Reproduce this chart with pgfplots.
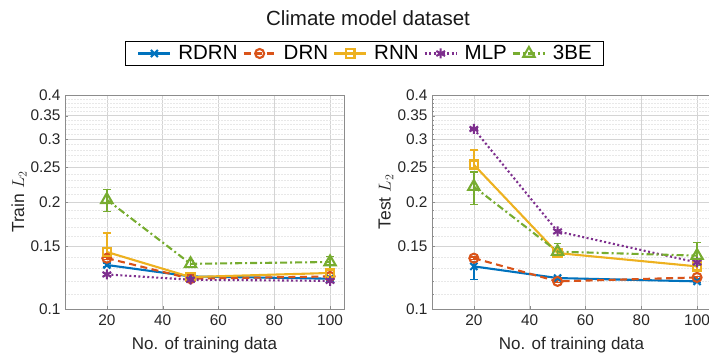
\documentclass[border=0pt]{standalone}
\usepackage{pgfplots}
\pgfplotsset{compat=1.18}
\usepackage{fontspec}
\setmainfont{Liberation Sans}
\definecolor{mblue}{rgb}{0,0.447,0.741}
\definecolor{morange}{rgb}{0.85,0.325,0.098}
\definecolor{myellow}{rgb}{0.929,0.694,0.125}
\definecolor{mpurple}{rgb}{0.494,0.184,0.556}
\definecolor{mgreen}{rgb}{0.466,0.674,0.188}
\pgfplotsset{
  legend image code/.code={\draw[mark repeat=2,mark phase=2,#1] plot coordinates {(0bp,0bp) (16bp,0bp) (32bp,0bp)};},
  prdrn/.style={color=mblue, solid, line width=2.1bp, mark=x, mark size=5bp, mark options={solid}},
  pdrn/.style={color=morange, line width=2.1bp, dash pattern=on 7bp off 4.5bp, mark=o, mark size=4.5bp, mark options={solid}},
  prnn/.style={color=myellow, solid, line width=2.1bp, mark=square, mark size=4.3bp, mark options={solid}},
  pmlp/.style={color=mpurple, line width=2.1bp, dash pattern=on 2bp off 2.5bp, mark=asterisk, mark size=5bp, mark options={solid}},
  pbe/.style={color=mgreen, line width=2.1bp, dash pattern=on 7bp off 3bp on 2bp off 3bp, mark=triangle, mark size=6.5bp, mark options={solid}},
}
\begin{document}
\begin{tikzpicture}
\begin{axis}[ymode=log,
    scale only axis, width=279bp, height=214bp,
    at={(65bp,-309bp)}, anchor=south west,
    xmin=5, xmax=105, ymin=0.1, ymax=0.4,
    xtick={20,40,60,80,100}, xticklabels={20,40,60,80,100},
    ytick={0.1,0.15,0.2,0.25,0.3,0.35,0.4},
    yticklabels={0.1,0.15,0.2,0.25,0.3,0.35,0.4},
    minor ytick={0.11,0.12,0.13,0.14,0.16,0.17,0.18,0.19,0.21,0.22,0.23,0.24,0.26,0.27,0.28,0.29,0.31,0.32,0.33,0.34,0.36,0.37,0.38,0.39},
    grid=both,
    major grid style={draw=black!17, line width=0.7bp},
    minor grid style={draw=black!9, dash pattern=on 1.5bp off 1.5bp, line width=0.6bp},
    axis line style={draw=black!45, line width=0.8bp},
    tick style={draw=black!45},
    major tick length=3bp, minor tick length=1.5bp,
    tick align=inside,
    xtick pos=bottom, ytick pos=left,
    ticklabel style={font=\fontsize{15.4bp}{18bp}\selectfont, text=black!85},
    xticklabel style={yshift=-2bp},
    yticklabel style={xshift=-1bp},
    xlabel={No. of training data},
    ylabel={Train $L_2$},
    xlabel style={font=\fontsize{17bp}{20bp}\selectfont, text=black!85, at={(axis description cs:0.5,-0.168)}, anchor=center},
    ylabel style={font=\fontsize{17.5bp}{20bp}\selectfont, text=black!85, at={(axis description cs:-0.165,0.5)}, anchor=center},
  legend columns=5,
  legend style={at={(axis description cs:1.0735,1.194)}, anchor=center,
    font=\fontsize{20.5bp}{22bp}\selectfont, draw=black, line width=0.9bp,
    inner xsep=12bp, inner ysep=2bp,
    nodes={inner xsep=0bp},
    /tikz/every even column/.append style={column sep=5bp},
    /tikz/every odd column/.append style={column sep=7bp}},
  ]
\addplot[prdrn, error bars/.cd, y dir=both, y explicit, error bar style={solid, line width=1.3bp}, error mark options={rotate=90, mark size=3.8bp, solid, line width=1.3bp}] coordinates {(20,0.1330) +- (0,0.001) (50,0.1235) +- (0,0.001) (100,0.1217) +- (0,0.001)};
\addlegendentry{RDRN}
\addplot[pdrn, error bars/.cd, y dir=both, y explicit, error bar style={solid, line width=1.3bp}, error mark options={rotate=90, mark size=3.8bp, solid, line width=1.3bp}] coordinates {(20,0.1390) +- (0,0.001) (50,0.1217) +- (0,0.001) (100,0.1235) +- (0,0.001)};
\addlegendentry{DRN}
\addplot[prnn, error bars/.cd, y dir=both, y explicit, error bar style={solid, line width=1.3bp}, error mark options={rotate=90, mark size=3.8bp, solid, line width=1.3bp}] coordinates {(20,0.1447) += (0,0.0189) -= (0,0.003) (50,0.1230) +- (0,0.001) (100,0.1263) +- (0,0.002)};
\addlegendentry{RNN}
\addplot[pmlp, error bars/.cd, y dir=both, y explicit, error bar style={solid, line width=1.3bp}, error mark options={rotate=90, mark size=3.8bp, solid, line width=1.3bp}] coordinates {(20,0.1251) +- (0,0.001) (50,0.1209) +- (0,0.001) (100,0.1200) +- (0,0.001)};
\addlegendentry{MLP}
\addplot[pbe, error bars/.cd, y dir=both, y explicit, error bar style={solid, line width=1.3bp}, error mark options={rotate=90, mark size=3.8bp, solid, line width=1.3bp}] coordinates {(20,0.2030) += (0,0.0136) -= (0,0.0150) (50,0.1340) +- (0,0.003) (100,0.1356) += (0,0.0051) -= (0,0.0056)};
\addlegendentry{3BE}
\end{axis}
\begin{axis}[ymode=log,
    scale only axis, width=279bp, height=214bp,
    at={(432bp,-309bp)}, anchor=south west,
    xmin=5, xmax=105, ymin=0.1, ymax=0.4,
    xtick={20,40,60,80,100}, xticklabels={20,40,60,80,100},
    ytick={0.1,0.15,0.2,0.25,0.3,0.35,0.4},
    yticklabels={0.1,0.15,0.2,0.25,0.3,0.35,0.4},
    minor ytick={0.11,0.12,0.13,0.14,0.16,0.17,0.18,0.19,0.21,0.22,0.23,0.24,0.26,0.27,0.28,0.29,0.31,0.32,0.33,0.34,0.36,0.37,0.38,0.39},
    grid=both,
    major grid style={draw=black!17, line width=0.7bp},
    minor grid style={draw=black!9, dash pattern=on 1.5bp off 1.5bp, line width=0.6bp},
    axis line style={draw=black!45, line width=0.8bp},
    tick style={draw=black!45},
    major tick length=3bp, minor tick length=1.5bp,
    tick align=inside,
    xtick pos=bottom, ytick pos=left,
    ticklabel style={font=\fontsize{15.4bp}{18bp}\selectfont, text=black!85},
    xticklabel style={yshift=-2bp},
    yticklabel style={xshift=-1bp},
    xlabel={No. of training data},
    ylabel={Test $L_2$},
    xlabel style={font=\fontsize{17bp}{20bp}\selectfont, text=black!85, at={(axis description cs:0.5,-0.168)}, anchor=center},
    ylabel style={font=\fontsize{17.5bp}{20bp}\selectfont, text=black!85, at={(axis description cs:-0.165,0.5)}, anchor=center},
  ]
\addplot[prdrn, error bars/.cd, y dir=both, y explicit, error bar style={solid, line width=1.3bp}, error mark options={rotate=90, mark size=3.8bp, solid, line width=1.3bp}] coordinates {(20,0.1318) += (0,0.004) -= (0,0.011) (50,0.1222) +- (0,0.001) (100,0.1196) +- (0,0.001)};
\addplot[pdrn, error bars/.cd, y dir=both, y explicit, error bar style={solid, line width=1.3bp}, error mark options={rotate=90, mark size=3.8bp, solid, line width=1.3bp}] coordinates {(20,0.1390) +- (0,0.001) (50,0.1196) +- (0,0.001) (100,0.1227) +- (0,0.001)};
\addplot[prnn, error bars/.cd, y dir=both, y explicit, error bar style={solid, line width=1.3bp}, error mark options={rotate=90, mark size=3.8bp, solid, line width=1.3bp}] coordinates {(20,0.2546) += (0,0.0254) -= (0,0.004) (50,0.1437) +- (0,0.002) (100,0.1318) +- (0,0.003)};
\addplot[pmlp, error bars/.cd, y dir=both, y explicit, error bar style={solid, line width=1.3bp}, error mark options={rotate=90, mark size=3.8bp, solid, line width=1.3bp}] coordinates {(20,0.3210) +- (0,0.002) (50,0.1653) +- (0,0.001) (100,0.1352) +- (0,0.001)};
\addplot[pbe, error bars/.cd, y dir=both, y explicit, error bar style={solid, line width=1.3bp}, error mark options={rotate=90, mark size=3.8bp, solid, line width=1.3bp}] coordinates {(20,0.2210) += (0,0.0221) -= (0,0.0240) (50,0.1450) += (0,0.008) -= (0,0.0045) (100,0.1413) += (0,0.0125) -= (0,0.009)};
\end{axis}
\node[font=\fontsize{20.5bp}{22bp}\selectfont, text=black!90] at (368bp,-18bp) {Climate model dataset};
\pgfresetboundingbox
\path[use as bounding box] (0,0) rectangle (709bp,-354bp);
\end{tikzpicture}
\end{document}
